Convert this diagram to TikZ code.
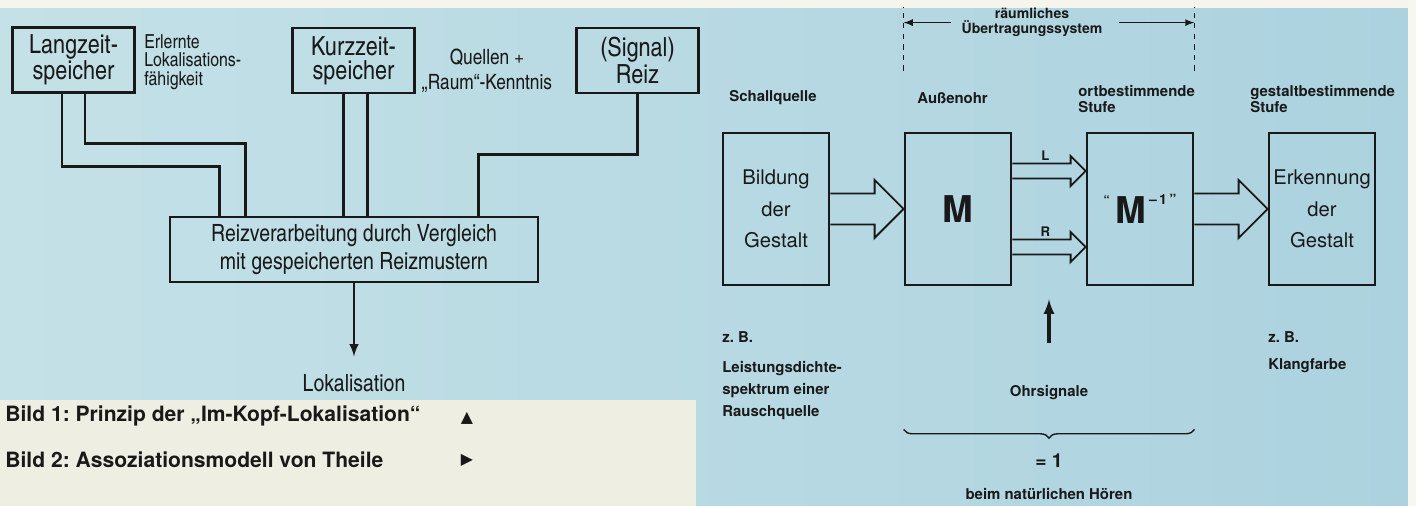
\documentclass[tikz,border=0pt]{standalone}
\usepackage{fontspec}
\setmainfont{TeX Gyre Heros}
\newfontfamily\cnfont{texgyreheroscn-regular.otf}
\newfontfamily\symfont{DejaVu Sans}
\usepackage{tikz}
\usetikzlibrary{arrows,calc,positioning,decorations.pathreplacing}
\definecolor{bgleft}{RGB}{196,225,231}
\definecolor{bgright}{RGB}{172,210,223}
\definecolor{paper}{RGB}{238,238,226}
\definecolor{ink}{RGB}{25,25,25}
\frenchspacing

\begin{document}
\begin{tikzpicture}[x=0.02cm, y=-0.02cm, color=ink,
  lbox/.style={draw, line width=1.6pt, inner sep=0pt, align=center, minimum width=2.44cm, minimum height=1.3cm, font=\cnfont\fontsize{15}{13.5}\selectfont},
  note/.style={inner sep=0pt, align=left, font=\cnfont\fontsize{11}{10.5}\selectfont},
  wire/.style={line width=1.4pt},
  rbox/.style={draw, line width=1.6pt, inner sep=0pt, align=center, minimum width=2.12cm, minimum height=3.04cm, font=\fontsize{11.5}{18}\selectfont},
  lab/.style={inner sep=0pt, align=left, font=\bfseries\fontsize{8.5}{9}\selectfont},
  hollow/.style={line width=1.1pt, line join=miter},
  captxt/.style={inner sep=0pt, font=\bfseries\fontsize{12}{12}\selectfont}]
%
\shade[left color=bgleft, right color=bgright] (0,0) rectangle (1416,506);
\fill[paper!60!white] (0,0) rectangle (1416,8);
\fill[paper] (0,400) rectangle (696,506);
\fill[paper!50!white] (1408,0) rectangle (1416,506);
\useasboundingbox (0,0) rectangle (1416,506);
%
\node[lbox] (lz) at (73.5,60) {Langzeit-\\speicher};
\node[lbox] (kz) at (353.5,60.5) {Kurzzeit-\\speicher};
\node[lbox] (rz) at (637.5,60.5) {(Signal)\\Reiz};
\node[note, anchor=west] (erl) at (144,62) {Erlernte\\Lokalisations-\\fähigkeit};
\node[note, align=center, font=\cnfont\fontsize{12}{14}\selectfont] (qr) at (487,71) {Quellen +\\„Raum“-Kenntnis};
\node[lbox, minimum width=7.36cm, font=\cnfont\fontsize{13.5}{16}\selectfont] (vb) at (354,249.5) {Reizverarbeitung durch Vergleich\\mit gespeicherten Reizmustern};
\node[inner sep=0pt, font=\cnfont\fontsize{13.5}{16}\selectfont] (lok) at (354,383) {Lokalisation};
%
\draw[wire] ($(lz.south)+(11.5,0)$) |- ($(vb.north west)+(77,-72)$) -- ($(vb.north west)+(77,0)$);
\draw[wire] ($(lz.south)+(-11.5,0)$) |- ($(vb.north west)+(51,-49)$) -- ($(vb.north west)+(51,0)$);
\draw[wire] ($(kz.south)+(-10,0)$) -- ++(0,124);
\draw[wire] ($(kz.south)+(14,0)$) -- ++(0,124);
\draw[wire] (rz.south) |- ($(vb.north east)+(-61,-61)$) -- ($(vb.north east)+(-61,0)$);
\draw[wire, -latex, shorten >=10pt] (vb.south) -- (lok.north);
%
\node[rbox] (sq) at (776,209) {Bildung\\der\\Gestalt};
\node[rbox, font=\bfseries\fontsize{21}{21}\selectfont] (ao) at (958,209) {M};
\node[rbox, font=\bfseries\fontsize{21}{21}\selectfont] (os) at (1140,209) {\raisebox{0.5em}{\fontsize{7}{7}\selectfont “}\,M\raisebox{0.5em}{\fontsize{8}{8}\selectfont\,–\,1\,”}};
\node[rbox] (gs) at (1322,209) {Erkennung\\der\\Gestalt};
%
\node[lab, anchor=west] (l1) at (729,98) {Schallquelle};
\node[lab, anchor=west] (l2) at (917,98) {Außenohr};
\node[lab, anchor=west] (l3) at (1078,99) {ortbestimmende\\Stufe};
\node[lab, anchor=west] (l4) at (1250,99) {gestaltbestimmende\\Stufe};
%
\foreach \a/\b in {sq/ao, os/gs} {
  \draw[hollow] ($(\a.east)+(0,-15.5)$) -- ($(\b.west)+(-29,-15.5)$) -- ($(\b.west)+(-29,-29)$) -- (\b.west) -- ($(\b.west)+(-29,29)$) -- ($(\b.west)+(-29,15.5)$) -- ($(\a.east)+(0,15.5)$);
}
\foreach \dy/\side in {-38/L, 38/R} {
  \draw[hollow] ($(ao.east)+(0,\dy-7.5)$) -- ($(os.west)+(-15,\dy-7.5)$) -- ($(os.west)+(-15,\dy-15)$) -- ($(os.west)+(0,\dy)$) -- ($(os.west)+(-15,\dy+15)$) -- ($(os.west)+(-15,\dy+7.5)$) -- ($(ao.east)+(0,\dy+7.5)$);
  \node[lab, font=\bfseries\fontsize{7.5}{7.5}\selectfont, anchor=south] (lbl\side) at ($(ao.east)!0.45!(os.west)+(0,\dy-10)$) {\side};
}
%
\coordinate (dimL) at ($(ao.north west)+(0,-109)$);
\coordinate (dimR) at ($(os.north east)+(0,-109)$);
\draw[dashed, line width=0.8pt] ($(ao.north west)+(0,-61)$) -- ($(ao.north west)+(0,-125)$);
\draw[dashed, line width=0.8pt] ($(os.north east)+(0,-61)$) -- ($(os.north east)+(0,-125)$);
\node[lab, align=center, font=\bfseries\fontsize{8}{8.5}\selectfont] (rue) at (1032,22) {räumliches\\Übertragungssystem};
\draw[-latex, line width=0.8pt, shorten <=6pt] (rue.west |- dimL) -- (dimL);
\draw[-latex, line width=0.8pt, shorten <=9.5pt] (rue.east |- dimR) -- (dimR);
%
\coordinate (sigtail) at ($(ao.south east)!0.5!(os.south west)+(0,57)$);
\coordinate (sigtip) at ($(ao.south east)!0.5!(os.south west)+(0,13)$);
\draw[line width=1.8pt, -latex] (sigtail) -- (sigtip);
\draw[line width=0.8pt, decorate, decoration={brace, amplitude=5pt}] ($(os.south east)+(0,143)$) -- ($(ao.south west)+(0,143)$);
%
\node[lab, anchor=west] (zb1) at (722,337) {z. B.};
\node[lab, anchor=west, font=\bfseries\fontsize{8.5}{12.5}\selectfont] (lsd) at (722,391) {Leistungsdichte-\\spektrum einer\\Rauschquelle};
\node[lab, anchor=west] (zb2) at (1268,337) {z. B.};
\node[lab, anchor=west] (klf) at (1268,366) {Klangfarbe};
\node[lab] (ohs) at (1049,393) {Ohrsignale};
\node[lab, font=\bfseries\fontsize{11}{11}\selectfont] (eq) at (1049,461) {= 1};
\node[lab] (nat) at (1049,494) {beim natürlichen Hören};
%
\node[captxt, anchor=west] (b1) at (5,416) {Bild 1: Prinzip der „Im-Kopf-Lokalisation“};
\node[captxt, font=\symfont\fontsize{9}{9}\selectfont] (t1) at (467,418) {▲};
\node[captxt, anchor=west] (b2) at (5,460) {Bild 2: Assoziationsmodell von Theile};
\node[captxt, font=\symfont\fontsize{9}{9}\selectfont] (t2) at (467,460) {▶};
%
\end{tikzpicture}
\end{document}
